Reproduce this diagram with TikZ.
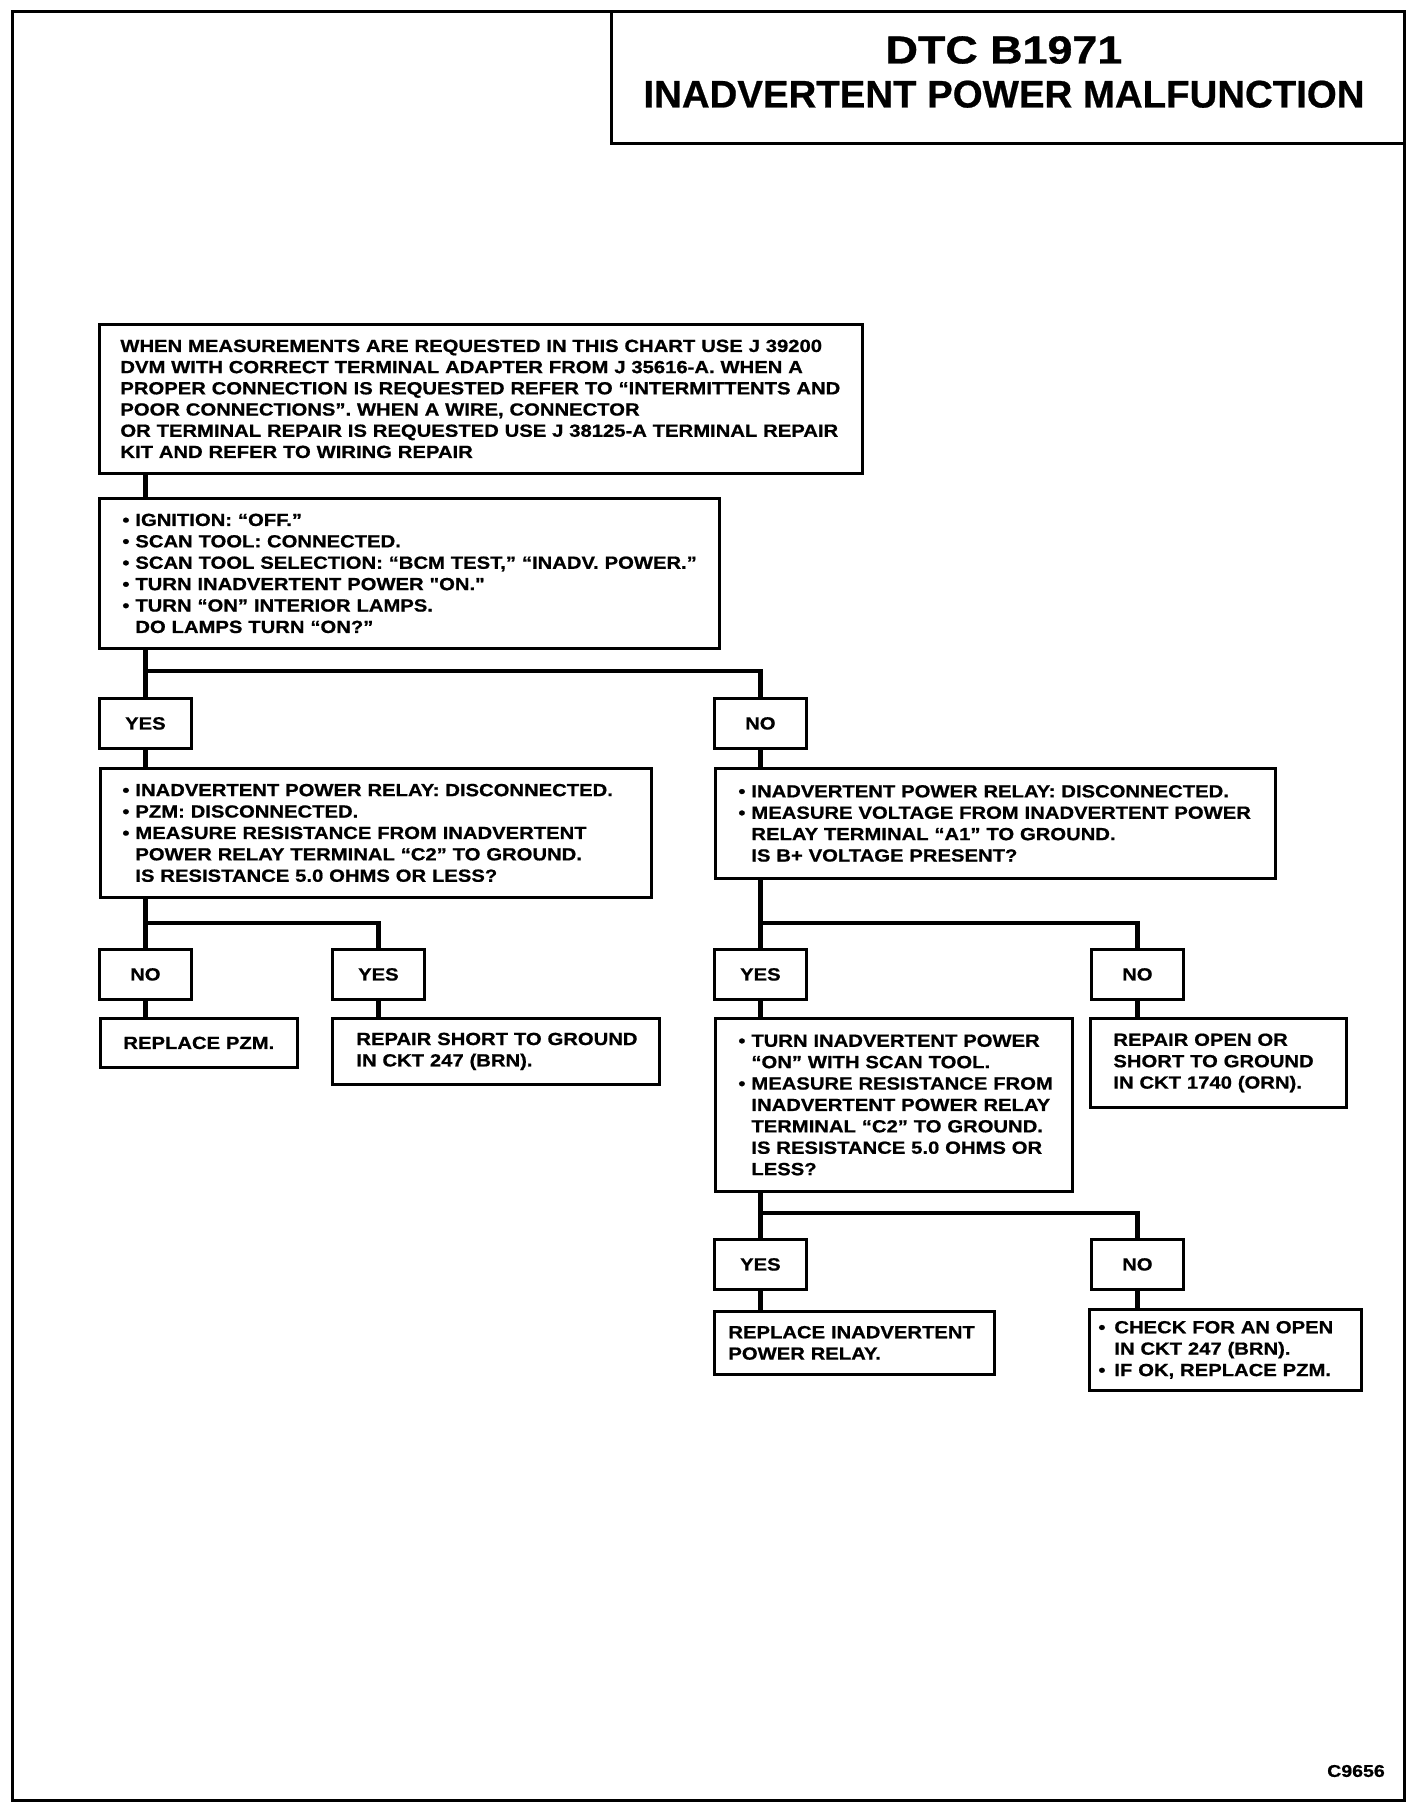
\documentclass[tikz,border=0pt]{standalone}
\usepackage{fontspec}
\newfontfamily\chartfont{Liberation Sans}[FakeStretch=1.15,FakeBold=0.8]
\newfontfamily\titlefont{Liberation Sans}[FakeBold=0.6]
\newlength\bw \setlength\bw{6.5pt}
\newcommand\bl[1]{\mbox{\makebox[\bw][l]{•}#1}}
\newcommand\ct[1]{\mbox{\hspace*{\bw}#1}}
\newcommand\li[1]{\mbox{#1}}
\newcommand\lm[1]{\leftskip=#1\relax}
\begin{document}
\begin{tikzpicture}[x=0.5pt,y=-0.5pt,
  box/.style={draw, line width=1.4pt, anchor=north west, inner xsep=0pt, inner ysep=0pt,
    align=left, font=\chartfont\bfseries\fontsize{8.8pt}{10.7pt}\selectfont},
  lab/.style={draw, line width=1.4pt, anchor=north west, minimum width=46pt,
    minimum height=25pt, inner sep=0pt, font=\chartfont\bfseries\fontsize{8.8pt}{10.7pt}\selectfont},
  conn/.style={line width=2.2pt}]
\useasboundingbox (0,0) rectangle (1408,1810);
% frame and title
\node[draw, line width=1.5pt, anchor=north west, minimum width=696pt,
  minimum height=894.5pt, inner sep=0pt] (frame) at (11,10) {};
\node[draw, line width=1.4pt, anchor=north west, minimum width=396.5pt,
  minimum height=66pt, inner sep=0pt] (titlebox) at (610,10) {};
\node[align=center, inner sep=0pt, font=\titlefont\bfseries\fontsize{19.2pt}{22pt}\selectfont] (title) at (1004,72)
  {{\chartfont\fontsize{19.5pt}{22pt}\selectfont DTC B1971}\\
   INADVERTENT POWER MALFUNCTION};
% boxes
\node[box, text width=381.5pt, minimum height=74.5pt,
  font=\chartfont\bfseries\fontsize{8.8pt}{10.6pt}\selectfont] (b1) at (98,323) {\lm{10.5pt}%
  \li{WHEN MEASUREMENTS ARE REQUESTED IN THIS CHART USE J 39200}\\
  \li{DVM WITH CORRECT TERMINAL ADAPTER FROM J 35616-A. WHEN A}\\
  \li{PROPER CONNECTION IS REQUESTED REFER TO “INTERMITTENTS AND}\\
  \li{POOR CONNECTIONS”. WHEN A WIRE, CONNECTOR}\\
  \li{OR TERMINAL REPAIR IS REQUESTED USE J 38125-A TERMINAL REPAIR}\\
  \li{KIT AND REFER TO WIRING REPAIR}\par};
\node[box, text width=310pt, minimum height=75pt] (b2) at (98,497) {\lm{11.5pt}%
  \bl{IGNITION: “OFF.”}\\
  \bl{SCAN TOOL: CONNECTED.}\\
  \bl{SCAN TOOL SELECTION: “BCM TEST,” “INADV. POWER.”}\\
  \bl{TURN INADVERTENT POWER "ON."}\\
  \bl{TURN “ON” INTERIOR LAMPS.}\\
  \ct{DO LAMPS TURN “ON?”}\par};
\node[lab] (yes1) at (98,697) {YES};
\node[lab] (no1) at (713,697) {NO};
\node[box, text width=275.5pt, minimum height=64.5pt] (b3) at (99,767) {\lm{11pt}%
  \bl{INADVERTENT POWER RELAY: DISCONNECTED.}\\
  \bl{PZM: DISCONNECTED.}\\
  \bl{MEASURE RESISTANCE FROM INADVERTENT}\\
  \ct{POWER RELAY TERMINAL “C2” TO GROUND.}\\
  \ct{IS RESISTANCE 5.0 OHMS OR LESS?}\par};
\node[box, text width=280pt, minimum height=55pt] (b4) at (714,767) {\lm{11.5pt}%
  \bl{INADVERTENT POWER RELAY: DISCONNECTED.}\\
  \bl{MEASURE VOLTAGE FROM INADVERTENT POWER}\\
  \ct{RELAY TERMINAL “A1” TO GROUND.}\\
  \ct{IS B+ VOLTAGE PRESENT?}\par};
\node[lab] (no2) at (98,948) {NO};
\node[lab] (yes2) at (331,948) {YES};
\node[lab] (yes3) at (713,948) {YES};
\node[lab] (no3) at (1090,948) {NO};
\node[box, text width=98.5pt, minimum height=24.5pt] (pzm) at (99,1017) {\lm{11.5pt}%
  \li{REPLACE PZM.}\par};
\node[box, text width=163.5pt, minimum height=33pt] (short) at (331,1017) {\lm{12pt}%
  \li{REPAIR SHORT TO GROUND}\\
  \li{IN CKT 247 (BRN).}\par};
\node[box, text width=178.5pt, minimum height=86.5pt] (turn) at (714,1017) {\lm{11.5pt}%
  \bl{TURN INADVERTENT POWER}\\
  \ct{“ON” WITH SCAN TOOL.}\\
  \bl{MEASURE RESISTANCE FROM}\\
  \ct{INADVERTENT POWER RELAY}\\
  \ct{TERMINAL “C2” TO GROUND.}\\
  \ct{IS RESISTANCE 5.0 OHMS OR}\\
  \ct{LESS?}\par};
\node[box, text width=128pt, minimum height=44.5pt] (open) at (1089,1017) {\lm{11.5pt}%
  \li{REPAIR OPEN OR}\\
  \li{SHORT TO GROUND}\\
  \li{IN CKT 1740 (ORN).}\par};
\node[lab] (yes4) at (713,1238) {YES};
\node[lab] (no4) at (1090,1238) {NO};
\node[box, text width=140pt, minimum height=31.5pt] (relay) at (713,1310) {\lm{7pt}%
  \li{REPLACE INADVERTENT}\\
  \li{POWER RELAY.}\par};
\node[box, text width=136pt, minimum height=40.5pt] (check) at (1088,1308) {\lm{4.5pt}\setlength\bw{8pt}%
  \bl{CHECK FOR AN OPEN}\\
  \ct{IN CKT 247 (BRN).}\\
  \bl{IF OK, REPLACE PZM.}\par};
\node[font=\chartfont\bfseries\fontsize{8.5pt}{10pt}\selectfont, inner sep=0pt] (code) at (1356,1771) {C9656};
% junctions
\coordinate (j1) at ([yshift=13pt]yes1.north);
\coordinate (j2) at ([yshift=12.5pt]no2.north);
\coordinate (j3) at ([yshift=12.5pt]yes3.north);
\coordinate (j4) at ([yshift=12.5pt]yes4.north);
% connectors
\draw[conn] (b1.south -| yes1.north) -- (b2.north -| yes1.north);
\draw[conn] (b2.south -| yes1.north) -- (yes1.north);
\draw[conn] (j1) -| (no1.north);
\draw[conn] (yes1.south) -- (b3.north -| yes1.south);
\draw[conn] (no1.south) -- (b4.north -| no1.south);
\draw[conn] (b3.south -| no2.north) -- (no2.north);
\draw[conn] (j2) -| (yes2.north);
\draw[conn] (no2.south) -- (pzm.north -| no2.south);
\draw[conn] (yes2.south) -- (short.north -| yes2.south);
\draw[conn] (b4.south -| yes3.north) -- (yes3.north);
\draw[conn] (j3) -| (no3.north);
\draw[conn] (yes3.south) -- (turn.north -| yes3.south);
\draw[conn] (no3.south) -- (open.north -| no3.south);
\draw[conn] (turn.south -| yes4.north) -- (yes4.north);
\draw[conn] (j4) -| (no4.north);
\draw[conn] (yes4.south) -- (relay.north -| yes4.south);
\draw[conn] (no4.south) -- (check.north -| no4.south);
\end{tikzpicture}
\end{document}
